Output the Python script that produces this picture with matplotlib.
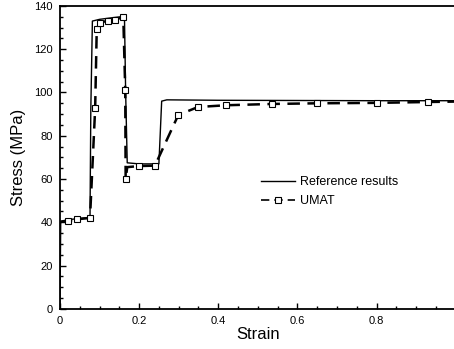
import numpy as np
import matplotlib
matplotlib.use("Agg")
import matplotlib.pyplot as plt
from matplotlib.ticker import MultipleLocator

plt.rcParams.update({"font.family": ["Liberation Sans", "DejaVu Sans"]})

# reference solution (solid)
ref_strain = [0.0, 0.002, 0.02, 0.05, 0.076, 0.078, 0.082, 0.10, 0.13, 0.163, 0.166, 0.17,
              0.20, 0.25, 0.257, 0.27, 0.40, 0.60, 0.80, 1.0]
ref_stress = [0.0, 40.5, 41.2, 41.8, 42.3, 92.0, 133.0, 133.8, 134.5, 135.2, 100.0, 67.5,
              67.0, 67.0, 96.0, 96.6, 96.4, 96.3, 96.2, 96.2]

# UMAT results (dashed, squares)
umat_strain = [0.0, 0.005, 0.02, 0.042, 0.076, 0.089, 0.093, 0.101, 0.122, 0.139, 0.16,
               0.165, 0.166, 0.17, 0.20, 0.24, 0.299, 0.349, 0.42, 0.536, 0.65, 0.80, 0.93, 1.0]
umat_stress = [40.0, 40.3, 40.6, 41.4, 42.0, 92.7, 129.4, 132.3, 133.2, 133.5, 135.0,
               101.0, 59.9, 65.5, 66.0, 66.2, 89.6, 93.3, 94.1, 94.7, 95.0, 95.2, 95.6, 95.8]
umat_marks = [2, 3, 4, 5, 6, 7, 8, 9, 10, 11, 12, 14, 15, 16, 17, 18, 19, 20, 21, 22]

fig = plt.figure(figsize=(4.54, 3.49), dpi=100)
ax = fig.add_axes([0.132, 0.115, 0.872, 0.868])

ax.plot(ref_strain, ref_stress, "-", color="black", lw=1.0, label="Reference results")
ax.plot(umat_strain, umat_stress, "--", color="black", lw=1.8, dashes=(5, 3),
        marker="s", ms=5, mfc="white", mec="black", mew=0.8, markevery=umat_marks,
        label="UMAT")

ax.set_xlim(0, 1.0)
ax.set_ylim(0, 140)
ax.set_xticks([0, 0.2, 0.4, 0.6, 0.8])
ax.set_xticklabels(["0", "0.2", "0.4", "0.6", "0.8"])
ax.set_yticks(np.arange(0, 141, 20))
ax.xaxis.set_minor_locator(MultipleLocator(0.05))
ax.yaxis.set_minor_locator(MultipleLocator(5))
ax.tick_params(which="both", direction="in", labelsize=8, width=1)
ax.tick_params(which="major", length=4, pad=5)
ax.tick_params(which="minor", length=2)
ax.spines["right"].set_visible(False)
for s in ("left", "bottom", "top"):
    ax.spines[s].set_linewidth(1.3)

ax.set_xlabel("Strain", fontsize=12, labelpad=1)
ax.set_ylabel("Stress (MPa)", fontsize=12, labelpad=6)

leg = ax.legend(loc="upper left", bbox_to_anchor=(0.48, 0.475), frameon=False, fontsize=9,
                handlelength=2.7, handletextpad=0.4, labelspacing=0.55, markerscale=0.75)
leg.get_lines()[1].set_linewidth(1.2)

fig.savefig("out.png", dpi=100)
